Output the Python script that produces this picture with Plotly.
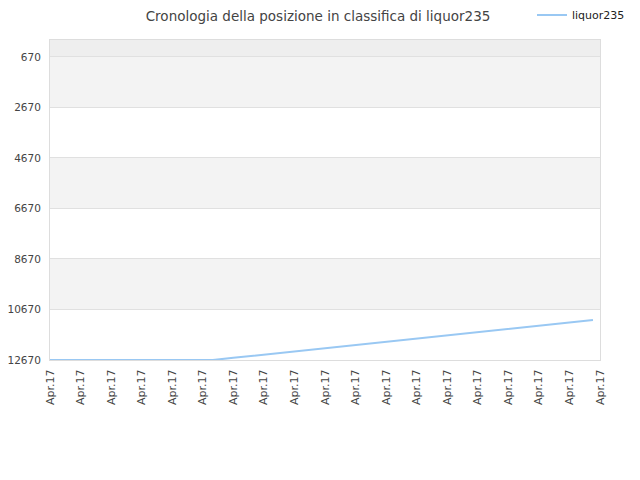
import plotly.graph_objects as go

# data (x in tick units, y = rank)
tick_pos = list(range(19))
tick_text = ['Apr.17'] * 19
y_ticks = [670, 2670, 4670, 6670, 8670, 10670, 12670]

series_name = 'liquor235'
xs = [0, 1, 2, 3, 4, 5, 5.33, 6, 7, 8, 9, 10, 11, 12, 13, 14, 15, 16, 17, 17.77]
ranks = [12670, 12670, 12670, 12670, 12670, 12670, 12670, 12585, 12457, 12330,
         12203, 12075, 11948, 11821, 11693, 11566, 11439, 11311, 11184, 11086]

fig = go.Figure()
fig.add_trace(go.Scatter(
    x=xs,
    y=ranks,
    mode='lines',
    name=series_name,
    line=dict(color='#99c8f3', width=2),
))

# alternating bands behind the plot
band_edges = [0] + y_ticks
band_colors = ['#eeeeee', '#f3f3f3', '#ffffff', '#f3f3f3', '#ffffff', '#f3f3f3', '#ffffff']
for i in range(len(band_edges) - 1):
    fig.add_shape(
        type='rect', xref='paper', yref='y', layer='below',
        x0=0, x1=1, y0=band_edges[i], y1=band_edges[i + 1],
        fillcolor=band_colors[i], line=dict(width=0),
    )

# page has an 8px body margin, so shift everything up/left by 8px
fig.update_layout(
    width=640,
    height=480,
    paper_bgcolor='white',
    plot_bgcolor='white',
    margin=dict(l=42, r=48, t=32, b=128, autoexpand=False),
    font=dict(family='DejaVu Sans', size=11, color='#444444'),
    title=dict(
        text='Cronologia della posizione in classifica di liquor235',
        x=310 / 640, xanchor='center',
        yref='container', y=1 - 8 / 480, yanchor='middle',
        font=dict(size=13.5, color='#444444'),
    ),
    showlegend=True,
    legend=dict(
        xref='container', x=622 / 640, xanchor='right',
        yref='container', y=1 - 7 / 480, yanchor='middle',
        font=dict(size=11, color='#222222'),
        bgcolor='rgba(0,0,0,0)',
        itemwidth=30,
    ),
)

fig.update_xaxes(
    range=[0, 18],
    tickvals=tick_pos,
    ticktext=tick_text,
    tickangle=-90,
    showgrid=False,
    zeroline=False,
    showline=True,
    linecolor='#dddddd',
    mirror=True,
    ticks='',
    ticklabelstandoff=4,
)
fig.update_yaxes(
    range=[12670, 0],
    tickvals=y_ticks,
    ticktext=[str(v) for v in y_ticks],
    tickfont=dict(size=10.5),
    showgrid=True,
    gridcolor='#e0e0e0',
    zeroline=False,
    showline=True,
    linecolor='#dddddd',
    mirror=True,
    ticks='',
    ticklabelstandoff=6,
)

fig.write_html('out.html')
